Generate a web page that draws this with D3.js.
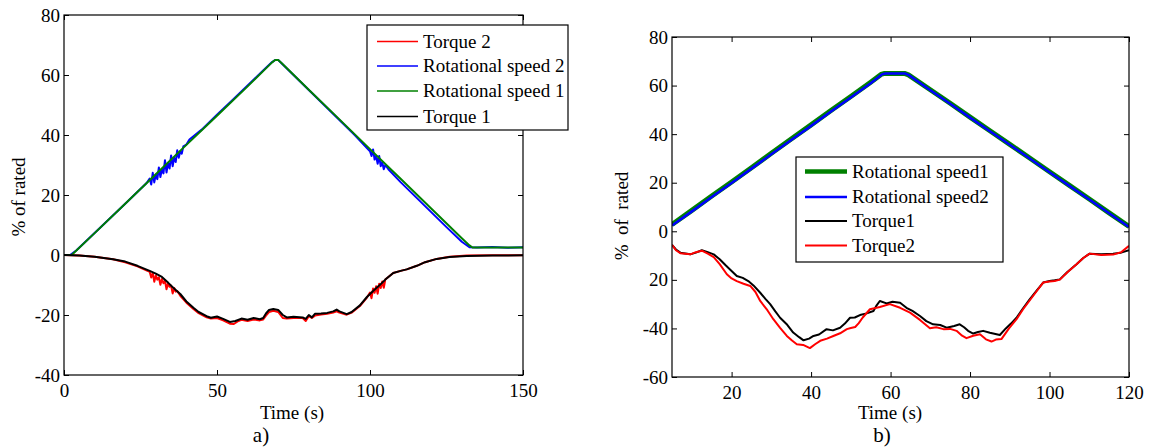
<!DOCTYPE html>
<html>
<head>
<meta charset="utf-8">
<script src="https://cdn.jsdelivr.net/npm/d3@7"></script>
<style>
body { margin: 0; background: #fff; }
svg { display: block; font-family: "Liberation Serif", "Times New Roman", serif; }
svg text { font-family: "Liberation Serif", "Times New Roman", serif; }
.tick text { font-size: 19px; fill: #000; }
</style>
</head>
<body>
<svg width="1152" height="447" font-family="Liberation Serif"></svg>
<script>
// ---- panel a) : [time (s), % of rated]
let aTorque2 = [[0,0],[5,-0.2],[10,-0.6],[16,-1.4],[20,-2.4],[24,-3.8],[28,-5.6],[28.5,-7.5],[29,-6],[29.5,-8.9],[30,-6.8],[30.5,-8.2],[31,-7.4],[31.5,-9.9],[32,-8],[32.5,-9.4],[33,-8.6],[33.5,-11.4],[34,-9.4],[34.5,-10.6],[35,-10.2],[35.5,-12.8],[36,-11],[36.5,-12.2],[37,-12],[38,-13.6],[40,-15.9],[42.3,-18],[44,-19.4],[46.6,-20.8],[48,-21.2],[50,-21],[52,-21.8],[54.2,-22.9],[55.5,-23],[57,-22],[58,-21.6],[60,-22],[62,-21.5],[64,-21.8],[65.1,-21.5],[66,-20.2],[67,-19],[68.4,-18.6],[70,-19],[71.5,-21],[72.8,-21.2],[75,-21],[78,-21],[79,-22],[80,-20.4],[81,-21],[82,-20.2],[84,-19.8],[86,-19.6],[88,-19.2],[89.1,-18.8],[90,-19.2],[92.4,-19.9],[94,-19.2],[96.7,-17],[99,-14.2],[100,-12.5],[100.5,-14.4],[101,-11.2],[101.5,-12.6],[102,-10.4],[102.5,-12.9],[103,-9.6],[103.5,-11],[104,-8.8],[104.5,-10.9],[105,-8.2],[107.6,-6],[110,-5.3],[112,-4.8],[115.3,-3.6],[118,-2.4],[121.8,-1.3],[126,-0.6],[131.6,-0.2],[140,-0.1],[150,-0.1]];
let aSpeed2 = [[0,0],[2,0],[4,1.5],[10,7.3],[20,17.1],[27,24],[28,25.5],[28.5,23.5],[29,27.4],[29.5,24.2],[30,26.8],[30.5,25.3],[31,29.2],[31.5,26],[32,28.6],[32.5,27.2],[33,31.6],[33.5,27.5],[34,30.6],[34.5,28.8],[35,33.2],[35.5,29.6],[36,32.4],[36.5,31],[37,34.9],[37.5,32.4],[38,34.6],[38.5,33.8],[39,36.2],[40,36.8],[41,38.5],[45,41.8],[50,46.8],[55,51.6],[60,56.5],[65,61.4],[68,64.3],[69,65],[70,65],[71,64],[75,60],[80,55],[85,50],[90,45],[95,40],[100,34.6],[100.5,33],[101,35.2],[101.5,31.8],[102,33],[102.5,30.4],[103,33],[103.5,29.6],[104,31],[104.5,28.6],[105,30],[106,28.6],[110,24.3],[115,19.3],[120,14.3],[125,9.3],[130,4.4],[132.5,2.6],[135,2.5],[140,2.7],[145,2.4],[150,2.6]];
let aSpeed1 = [[0,0],[2.5,0],[10,7.3],[20,17.1],[30,26.9],[40,36.7],[50,46.4],[60,56.2],[68,64.2],[69,65],[70,65],[71,64.1],[80,55.1],[90,45.2],[100,35.3],[110,25.4],[120,15.5],[130,5.6],[132.5,3.2],[133.5,2.5],[150,2.5]];
let aTorque1 = [[0,0],[5,-0.2],[10,-0.6],[16,-1.4],[20,-2.2],[24,-3.6],[28,-5.3],[30,-6.2],[32,-7.3],[34,-9.2],[35.7,-10.9],[38,-13],[40,-15.5],[42.3,-17.6],[44,-19],[46.6,-20.4],[48,-20.9],[50,-20.5],[52,-21.3],[54.2,-22.3],[56,-22],[58,-21.2],[60,-21.6],[62,-21],[64,-21.4],[65.1,-21],[66,-19.5],[67,-18.3],[68.4,-18],[70,-18.3],[71.5,-20],[72.8,-20.8],[75,-20.6],[78,-20.8],[79,-21.3],[80,-20],[81,-20.8],[82,-19.6],[84,-19.5],[86,-19.3],[88,-18.8],[89.1,-18.2],[90,-18.8],[92.4,-19.7],[94,-19],[96.7,-16.8],[99,-14],[101,-12],[103,-10.2],[105,-8.2],[107.6,-6],[110,-5.3],[112,-4.8],[115.3,-3.6],[118,-2.4],[121.8,-1.3],[126,-0.7],[131.6,-0.3],[140,-0.2],[150,-0.1]];

let aXTicks = [0, 50, 100, 150];
let aYTicks = [-40, -20, 0, 20, 40, 60, 80];
let aYLabels = ["-40", "-20", "0", "20", "40", "60", "80"];
let aLegend = ["Torque 2", "Rotational speed 2", "Rotational speed 1", "Torque 1"];

// ---- panel b)
let bSpeed1 = [[5,2.8],[10,8.6],[15,14.5],[20,20.3],[25,26.2],[30,32.1],[35,38],[40,43.8],[45,49.7],[50,55.5],[55,61.4],[57.6,64.6],[58.5,65],[63.5,65],[64.5,64.4],[70,58.3],[75,52.7],[80,47],[85,41.4],[90,35.8],[95,30.2],[100,24.5],[105,18.9],[110,13.3],[115,7.6],[120,2]];
let bSpeed2 = [[5,2.4],[10,8.2],[15,14.1],[20,19.9],[25,25.8],[30,31.7],[35,37.6],[40,43.4],[45,49.3],[50,55.1],[55,61],[57.8,64.6],[58.7,65],[63.6,65],[64.6,64.3],[70,58.1],[75,52.5],[80,46.8],[85,41.2],[90,35.6],[95,30],[100,24.3],[105,18.7],[110,13.1],[115,7.4],[120,1.8]];
let bTorque1 = [[5,-5.6],[6,-7.5],[7.1,-8.8],[9.6,-9.5],[11,-8.8],[12.5,-7.8],[14,-8.6],[15.5,-9.5],[17,-11.5],[18.5,-14],[19.6,-15.7],[21.3,-18.4],[22.8,-19.2],[24.2,-20.5],[25.5,-22.3],[27.2,-25.3],[28.5,-27.8],[29.7,-30],[31,-33],[32.2,-35.6],[34,-38.5],[35.5,-41.7],[37,-43.6],[38.1,-44.9],[39.5,-44.2],[40.6,-43.1],[42,-42.5],[43.9,-40.3],[45.5,-40.8],[47.3,-39.7],[48.5,-38],[49.8,-35.6],[51,-35.5],[52.3,-34.5],[54,-33.8],[55.7,-32.8],[56.5,-30.5],[57.3,-28.7],[59,-29.7],[60.5,-29],[62.4,-29.4],[64,-31.5],[65.5,-32.8],[67.4,-34.9],[69,-37],[70.7,-38.3],[72.5,-38.6],[74.1,-39.7],[76,-39],[77.4,-38.3],[78.5,-39.5],[79.5,-41],[80.8,-42.1],[82,-41.5],[83.3,-41],[85,-41.8],[87.5,-42.7],[89,-40],[90.3,-38],[91.7,-35.6],[93.3,-31.8],[95,-28],[96.7,-24.5],[98.4,-21.1],[100,-20.5],[101.3,-20.2],[102.6,-19.8],[104.5,-16.8],[106.8,-13.6],[108.5,-11],[110.1,-9.2],[113,-9.5],[116,-9.2],[118,-8.8],[120,-7.8]];
let bTorque2 = [[5,-5.6],[6,-7.8],[7.1,-9],[9.6,-9.5],[11,-8.6],[12.5,-8],[14,-9.2],[15.5,-10.6],[17,-13.5],[18.8,-17.7],[20,-19.4],[21.3,-20.5],[23,-21.6],[24.7,-22.5],[26,-25],[27.2,-28.7],[29,-32.5],[30.5,-36.2],[32.2,-39.8],[33.9,-43.1],[35.2,-45],[36.4,-46.5],[38,-46.8],[39.7,-48.1],[41,-46.5],[42.3,-45.1],[44,-44.2],[45.6,-43.1],[47.3,-42],[49,-40.3],[50,-39.8],[51.1,-39.4],[52,-37.8],[53,-35.5],[54.8,-32.1],[57.3,-31.2],[59.8,-30],[62.4,-31.5],[64.9,-33.5],[67.4,-36.5],[69.9,-39.9],[71.5,-39.5],[73.3,-40.3],[75,-40.2],[76.6,-41],[78,-43],[79.1,-44],[80.8,-43],[82.5,-42.4],[84,-44.5],[85.4,-45.4],[86.5,-44.6],[87.9,-44.4],[89.8,-40],[91.7,-36.2],[93.3,-32.2],[95,-28.5],[96.7,-24.8],[98.4,-21.1],[100,-20.7],[101.3,-20.5],[102.6,-19.9],[104.5,-16.9],[106.8,-13.6],[108.5,-11],[110.1,-9.2],[113,-9.8],[116,-9.6],[118,-8.6],[120,-6]];

let bXTicks = [20, 40, 60, 80, 100, 120];
let bYTicks = [-60, -40, -20, 0, 20, 40, 60, 80];
let bYLabels = ["-60", "-40", "20", "0", "20", "40", "60", "80"];
let bLegend = ["Rotational speed1", "Rotational speed2", "Torque1", "Torque2"];

let svg = d3.select("svg");

let drawPanel = function (p) {
    let x = d3.scaleLinear().domain(p.xDomain).range([p.left, p.right]);
    let y = d3.scaleLinear().domain(p.yDomain).range([p.bottom, p.top]);

    svg.append("defs").append("clipPath")
        .attr("id", p.id)
        .append("rect")
        .attr("x", p.left).attr("y", p.top)
        .attr("width", p.right - p.left).attr("height", p.bottom - p.top);

    let line = d3.line()
        .x(d => x(d[0]))
        .y(d => y(d[1]));

    let plot = svg.append("g").attr("clip-path", "url(#" + p.id + ")");
    p.series.forEach(s => {
        plot.append("path")
            .datum(s.data)
            .attr("fill", "none")
            .attr("stroke", s.color)
            .attr("stroke-width", s.width)
            .attr("stroke-linejoin", "round")
            .attr("d", line);
    });

    // axes, matlab style: ticks pointing inwards on all four sides
    let yLab = d3.scaleOrdinal().domain(p.yTicks).range(p.yLabels);
    let clean = g => {
        g.attr("font-family", "Liberation Serif").attr("font-size", 19);
        g.select(".domain").remove();
    };
    svg.append("g")
        .attr("transform", "translate(0," + p.bottom + ")")
        .call(d3.axisBottom(x).tickValues(p.xTicks).tickSizeInner(-5).tickSizeOuter(0).tickPadding(9))
        .call(clean);
    svg.append("g")
        .attr("transform", "translate(0," + p.top + ")")
        .call(d3.axisTop(x).tickValues(p.xTicks).tickSizeInner(-5).tickSizeOuter(0).tickFormat(""))
        .call(clean);
    svg.append("g")
        .attr("transform", "translate(" + p.left + ",0)")
        .call(d3.axisLeft(y).tickValues(p.yTicks).tickSizeInner(-5).tickSizeOuter(0).tickPadding(4).tickFormat(d => yLab(d)))
        .call(clean);
    svg.append("g")
        .attr("transform", "translate(" + p.right + ",0)")
        .call(d3.axisRight(y).tickValues(p.yTicks).tickSizeInner(-5).tickSizeOuter(0).tickFormat(""))
        .call(clean);
    svg.selectAll(".tick line").attr("stroke", "#000");

    svg.append("rect")
        .attr("x", p.left).attr("y", p.top)
        .attr("width", p.right - p.left).attr("height", p.bottom - p.top)
        .attr("fill", "none").attr("stroke", "#000").attr("stroke-width", 1.2);

    // legend
    let lg = p.legend;
    svg.append("rect")
        .attr("x", lg.x).attr("y", lg.y)
        .attr("width", lg.w).attr("height", lg.h)
        .attr("fill", "#fff").attr("stroke", "#000").attr("stroke-width", 1.2);
    lg.items.forEach((it, i) => {
        let ry = lg.rows[i];
        svg.append("line")
            .attr("x1", lg.x + lg.l1).attr("x2", lg.x + lg.l2)
            .attr("y1", ry).attr("y2", ry)
            .attr("stroke", it.color).attr("stroke-width", it.width);
        svg.append("text")
            .attr("x", lg.x + lg.tx).attr("y", ry)
            .attr("dy", "0.32em")
            .attr("font-size", 19)
            .text(it.label);
    });

    // labels
    svg.append("text")
        .attr("transform", "translate(" + p.yLabel.x + "," + p.yLabel.y + ")rotate(-90)")
        .attr("text-anchor", "middle")
        .attr("font-size", 19)
        .attr("xml:space", "preserve")
        .text(p.yLabel.text);
    svg.append("text")
        .attr("x", p.xLabel.x).attr("y", p.xLabel.y)
        .attr("text-anchor", "middle")
        .attr("font-size", 19)
        .text("Time (s)");
    svg.append("text")
        .attr("x", p.tag.x).attr("y", p.tag.y)
        .attr("text-anchor", "middle")
        .attr("font-size", 21)
        .text(p.tag.text);
};

drawPanel({
    id: "clipA",
    left: 64, right: 523, top: 15, bottom: 375,
    xDomain: [0, 150], yDomain: [-40, 80],
    xTicks: aXTicks, yTicks: aYTicks, yLabels: aYLabels,
    series: [
        { data: aTorque2, color: "#ff0000", width: 2 },
        { data: aSpeed2, color: "#0000ff", width: 2 },
        { data: aSpeed1, color: "#008000", width: 2 },
        { data: aTorque1, color: "#000000", width: 2 }
    ],
    legend: {
        x: 367, y: 25, w: 201, h: 105, l1: 10, l2: 51, tx: 56,
        rows: [41.5, 66, 91, 116.5],
        items: [
            { label: aLegend[0], color: "#ff0000", width: 1.5 },
            { label: aLegend[1], color: "#0000ff", width: 1.5 },
            { label: aLegend[2], color: "#008000", width: 1.5 },
            { label: aLegend[3], color: "#000000", width: 1.5 }
        ]
    },
    yLabel: { x: 25, y: 197, text: "% of rated" },
    xLabel: { x: 292, y: 419 },
    tag: { x: 261, y: 442, text: "a)" }
});

drawPanel({
    id: "clipB",
    left: 672, right: 1129, top: 37, bottom: 377,
    xDomain: [5, 120], yDomain: [-60, 80],
    xTicks: bXTicks, yTicks: bYTicks, yLabels: bYLabels,
    series: [
        { data: bSpeed1, color: "#008000", width: 5 },
        { data: bSpeed2, color: "#0000ff", width: 2.5 },
        { data: bTorque1, color: "#000000", width: 2 },
        { data: bTorque2, color: "#ff0000", width: 2 }
    ],
    legend: {
        x: 796, y: 157, w: 207, h: 105, l1: 9, l2: 51, tx: 56,
        rows: [171.5, 197, 221, 245.5],
        items: [
            { label: bLegend[0], color: "#008000", width: 4.5 },
            { label: bLegend[1], color: "#0000ff", width: 2.5 },
            { label: bLegend[2], color: "#000000", width: 2 },
            { label: bLegend[3], color: "#ff0000", width: 2 }
        ]
    },
    yLabel: { x: 628, y: 216, text: "%  of  rated" },
    xLabel: { x: 890, y: 419 },
    tag: { x: 882, y: 442, text: "b)" }
});
</script>
</body>
</html>
